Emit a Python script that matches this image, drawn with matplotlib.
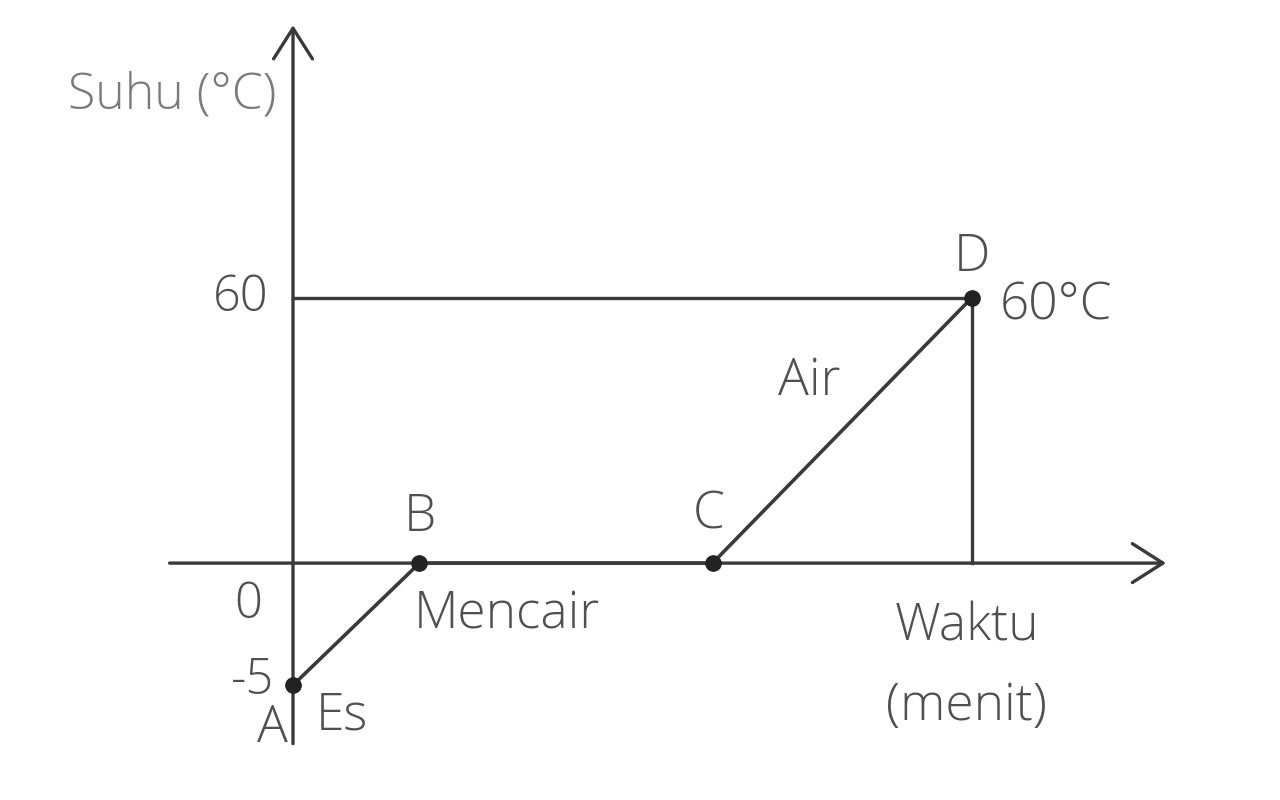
import matplotlib
matplotlib.use("Agg")
import matplotlib.pyplot as plt
import numpy as np

# data: grafik suhu terhadap waktu (es -> air)
titik = ['A', 'B', 'C', 'D']
waktu = [0, 2.05, 6.8, 11.0]
suhu = [-5, 0, 0, 60]
yticks = [60, 0, -5]
ytick_labels = ['60', '0', '-5']

LINE = '#3a3a3a'
TXT = '#505050'
FS = 37
plt.rcParams['font.family'] = ['Open Sans', 'DejaVu Sans']
plt.rcParams['font.weight'] = 'light'

# skala y tidak linier (bagian negatif diperlebar seperti di gambar)
K = 5.52
def fwd(y):
    y = np.asarray(y, dtype=float)
    return np.where(y < 0, y * K, y)

def inv(f):
    f = np.asarray(f, dtype=float)
    return np.where(f < 0, f / K, f)

fig = plt.figure(figsize=(12.8, 8), dpi=100)
ax = fig.add_axes([0, 0, 1, 1])
ax.set_yscale('function', functions=(fwd, inv))
ax.set_xlim(-4.749, 15.997)
ax.set_ylim(-9.71, 127.4)
ax.axis('off')

arrow = dict(arrowstyle='->,head_length=1.1,head_width=0.7', mutation_scale=20,
             color=LINE, lw=2.4, shrinkA=0, shrinkB=0)
# sumbu y dan sumbu x
ax.annotate('', xy=(0, 121.7), xytext=(0, -7.4), arrowprops=arrow)
ax.annotate('', xy=(14.15, 0), xytext=(-2.0, 0), arrowprops=arrow)

# garis bantu ke titik D
ax.plot([0, waktu[3]], [suhu[3], suhu[3]], color=LINE, lw=2.4)
ax.plot([waktu[3], waktu[3]], [0, suhu[3]], color=LINE, lw=2.4)

# kurva pemanasan
ax.plot(waktu, suhu, color=LINE, lw=2.6, marker='o', markersize=11,
        markerfacecolor='#222222', markeredgecolor='#222222', zorder=3)

# label titik
off = {'A': (-15, -31), 'B': (0, 33), 'C': (-3, 35), 'D': (0, 29)}
for n, t, s in zip(titik, waktu, suhu):
    ax.annotate(n, (t, s), xytext=off[n], textcoords='offset points',
                ha='center', va='center', fontsize=FS, color=TXT)

# label nilai suhu
tick_off = {60: (-38, 0), 0: (-32, -30), -5: (-29, 3)}
for v, lab in zip(yticks, ytick_labels):
    ax.annotate(lab, (0, v), xytext=tick_off[v], textcoords='offset points',
                ha='center', va='center', fontsize=FS - 2, color=TXT)

# keterangan fase
ax.annotate('Es', (waktu[0], suhu[0]), xytext=(35, -22), textcoords='offset points',
            ha='center', va='center', fontsize=FS, color=TXT)
ax.annotate('Mencair', (waktu[1], suhu[1]), xytext=(-4, -37), textcoords='offset points',
            ha='left', va='center', fontsize=FS, color=TXT)
ax.annotate('Air', (waktu[3], suhu[3]), xytext=(-117, -60), textcoords='offset points',
            ha='center', va='center', fontsize=FS, color=TXT)
ax.annotate('60°C', (waktu[3], suhu[3]), xytext=(20, -6), textcoords='offset points',
            ha='left', va='center', fontsize=FS, color=TXT)

# judul sumbu
ax.annotate('Waktu', (waktu[3], 0), xytext=(-3, -46), textcoords='offset points',
            ha='center', va='center', fontsize=FS, color=TXT)
ax.annotate('(menit)', (waktu[3], 0), xytext=(-4, -103), textcoords='offset points',
            ha='center', va='center', fontsize=FS, color=TXT)
ax.annotate('Suhu (°C)', (0, 0), xytext=(-87, 337), textcoords='offset points',
            ha='center', va='center', fontsize=FS - 1, color='#7a7a7a')

plt.savefig('out.png', dpi=100)
plt.close()
